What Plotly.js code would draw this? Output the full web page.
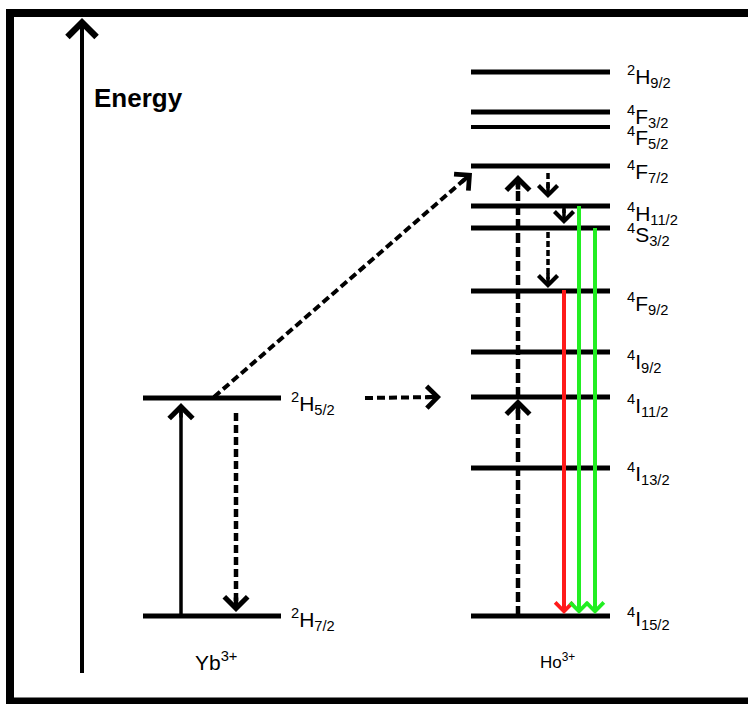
<!DOCTYPE html>
<html><head><meta charset="utf-8">
<script src="https://cdn.plot.ly/plotly-3.0.1.min.js"></script>
<style>html,body{margin:0;padding:0;background:#fff;overflow:hidden;}</style>
</head><body><div id="chart" style="width:748px;height:704px;"></div>
<script>
// ---- data (energies in arbitrary units, ground state = 0) ----
const hoStates = ['2H9/2','4F3/2','4F5/2','4F7/2','4H11/2','4S3/2','4F9/2','4I9/2','4I11/2','4I13/2','4I15/2'];
const hoEnergy = [544, 504, 489, 450, 410, 388, 325, 264, 219, 148, 0];
const ybStates = ['2H5/2','2H7/2'];
const ybEnergy = [218, 0];
const ionNames = ['Yb<sup>3+</sup>', 'Ho<sup>3+</sup>'];
const axisLabel = 'Energy';
// transitions
const transFrom = ['Yb:2H7/2','Yb:2H5/2','Yb:2H5/2','Yb:2H5/2','Ho:4I15/2','Ho:4I11/2','Ho:4F7/2','Ho:4H11/2','Ho:4S3/2','Ho:4F9/2','Ho:4H11/2','Ho:4S3/2'];
const transTo   = ['Yb:2H5/2','Yb:2H7/2','Ho:4F7/2','Ho:4I11/2','Ho:4I11/2','Ho:4F7/2','Ho:4H11/2','Ho:4S3/2','Ho:4F9/2','Ho:4I15/2','Ho:4I15/2','Ho:4I15/2'];
const transType = ['absorption','relaxation','transfer','transfer','upconversion','upconversion','nonradiative','nonradiative','nonradiative','red','green','green'];

// ---- drawing styles / positions (not data) ----
const X = {ybL: 143, ybR: 281, hoL: 471, hoR: 610, ybLab: 289, hoLab: 625};
// label vertical nudges (pixels)
const labelShift = {'2H9/2':-4,'4F3/2':-4,'4F5/2':-10,'4F7/2':-5,'4H11/2':-7,'4S3/2':-6,'4F9/2':-12,
  '4I9/2':-9,'4I11/2':-8,'4I13/2':-5,'4I15/2':-2,'2H5/2':-5,'2H7/2':-3};
// per-transition geometry: tail x, tip x, tail offset, tip offset (energy units)
const geom = [
  [181, 181, 0, -5],
  [236, 236, -15, 4],
  [214, 472, 1, -7],
  [365, 441, 0, 0],
  [518, 518, 0, -2],
  [518, 518, 0, -9],
  [548, 548, -7, 8],
  [564, 564, -1, 4],
  [548, 548, -4, 3],
  [564, 564, 1, 2],
  [579, 579, 0, 2],
  [595, 595, 0, 2]
];
const typeStyle = {
  absorption:   {color:'#000', width:3.5, dash:'solid', size:1.3},
  relaxation:   {color:'#000', width:4.5, dash:'8px,4px', size:1.0},
  transfer:     {color:'#000', width:4, dash:'8px,4px', size:1.05},
  upconversion: {color:'#000', width:4.5, dash:'10px,4px', size:1.0},
  nonradiative: {color:'#000', width:3.5, dash:'6px,3px', size:1.05},
  red:          {color:'#ff1a1a', width:4, dash:'solid', size:0.85},
  green:        {color:'#22ee22', width:4, dash:'solid', size:0.85}
};

function levelE(key){
  const [ion, st] = key.split(':');
  return ion === 'Yb' ? ybEnergy[ybStates.indexOf(st)] : hoEnergy[hoStates.indexOf(st)];
}
function rich(st){
  return '<sup>' + st[0] + '</sup>' + st[1] + '<sub>' + st.slice(2) + '</sub>';
}

const traces = [];
const annotations = [];
const FONT = 'Liberation Sans, Arial, sans-serif';

// frame (decorative border in axis units: 1 unit = 1 px), three separate sides
const frameLine = {color:'#000', width:8};
traces.push({x:[6, 760], y:[603, 603], mode:'lines', line:frameLine, hoverinfo:'skip'});
traces.push({x:[10, 10], y:[607, -90], mode:'lines', line:frameLine, hoverinfo:'skip'});
traces.push({x:[6, 760], y:[-85.5, -85.5], mode:'lines', line:frameLine, hoverinfo:'skip'});

function addHead(x1, y1, x2, y2, color, width, size){
  const dx = x2 - x1, dy = y2 - y1, L = Math.hypot(dx, dy), s = 16;
  annotations.push({x: x2, y: y2, ax: x2 - dx / L * s, ay: y2 - dy / L * s,
    xref:'x', yref:'y', axref:'x', ayref:'y', text:'', showarrow:true,
    arrowhead:4, arrowsize:size, arrowwidth:width, arrowcolor:color});
}
function addArrow(x1, y1, x2, y2, st){
  const dx = x2 - x1, dy = y2 - y1, L = Math.hypot(dx, dy), back = 9;
  traces.push({x:[x1, x2 - dx / L * back], y:[y1, y2 - dy / L * back], mode:'lines',
    line:{color:st.color, width:st.width, dash:st.dash}, hoverinfo:'skip'});
  addHead(x1, y1, x2, y2, st.color, st.width, st.size);
}

// energy axis arrow
addArrow(82, -57, 82, 598, {color:'#000', width:4, dash:'solid', size:1.4});
annotations.push({x:92, y:518, xref:'x', yref:'y', xanchor:'left', yanchor:'middle', showarrow:false,
  text:'<b>' + axisLabel + '</b>', font:{family:FONT, size:26, color:'#000'}});

// levels
ybStates.forEach((st, i) => {
  traces.push({x:[X.ybL, X.ybR], y:[ybEnergy[i], ybEnergy[i]], mode:'lines', line:{color:'#000', width:5}, hoverinfo:'skip'});
  annotations.push({x:X.ybLab, y:ybEnergy[i], xref:'x', yref:'y', xanchor:'left', yanchor:'middle', yshift:labelShift[st],
    showarrow:false, text:rich(st), font:{family:FONT, size:21, color:'#000'}});
});
hoStates.forEach((st, i) => {
  const w = (st === '4F5/2') ? 4 : 5;
  traces.push({x:[X.hoL, X.hoR], y:[hoEnergy[i], hoEnergy[i]], mode:'lines', line:{color:'#000', width:w}, hoverinfo:'skip'});
  annotations.push({x:X.hoLab, y:hoEnergy[i], xref:'x', yref:'y', xanchor:'left', yanchor:'middle', yshift:labelShift[st],
    showarrow:false, text:rich(st), font:{family:FONT, size:21, color:'#000'}});
});

// transitions
transFrom.forEach((f, i) => {
  const g = geom[i];
  const st = typeStyle[transType[i]];
  addArrow(g[0], levelE(f) + g[2], g[1], levelE(transTo[i]) + g[3], st);
});

// ion names
annotations.push({x:216, y:-45, xref:'x', yref:'y', xanchor:'center', yanchor:'middle', showarrow:false,
  text:ionNames[0], font:{family:FONT, size:21, color:'#000'}});
annotations.push({x:557, y:-45, xref:'x', yref:'y', xanchor:'center', yanchor:'middle', showarrow:false,
  text:ionNames[1], font:{family:FONT, size:17, color:'#000'}});

const layout = {
  width:748, height:704, margin:{l:0, r:0, t:0, b:0},
  paper_bgcolor:'#fff', plot_bgcolor:'#fff', showlegend:false,
  xaxis:{range:[0, 748], visible:false, fixedrange:true},
  yaxis:{range:[-88, 616], visible:false, fixedrange:true},
  annotations:annotations
};
Plotly.newPlot('chart', traces, layout, {staticPlot:true, displayModeBar:false});
</script></body></html>
